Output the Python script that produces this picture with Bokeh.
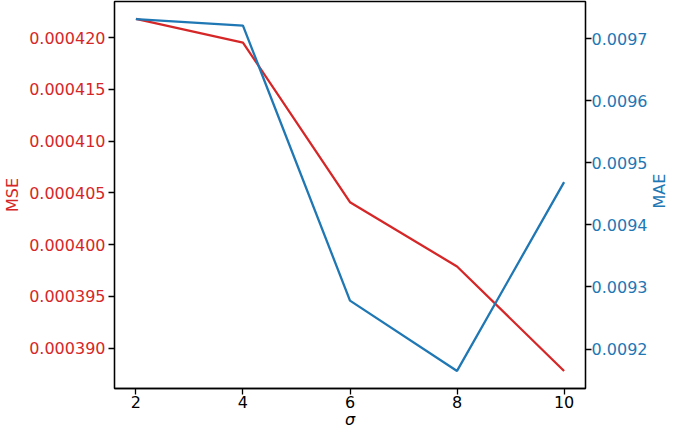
import math
from bokeh.plotting import figure
from bokeh.layouts import row, column
from bokeh.models import LinearAxis, Range1d, FixedTicker, PrintfTickFormatter
from bokeh.core.properties import value
from bokeh.embed import file_html
from bokeh.resources import INLINE

sigma = [2, 4, 6, 8, 10]
mse = [0.00042183, 0.00041953, 0.00040411, 0.00039789, 0.00038779]
mae = [0.0097316, 0.0097210, 0.0092780, 0.0091647, 0.0094690]
x_ticks = [2, 4, 6, 8, 10]
mse_ticks = [0.000390, 0.000395, 0.000400, 0.000405, 0.000410, 0.000415, 0.000420]
mae_ticks = [0.0092, 0.0093, 0.0094, 0.0095, 0.0096, 0.0097]
x_title = "σ"
mse_title = "MSE"
mae_title = "MAE"

RED = "#d62728"
BLUE = "#1f77b4"
FONT = "DejaVu Sans"
FS = "16px"

xr = Range1d(1.6, 10.4)
yr = Range1d(0.0003861, 0.0004235)
yr2 = Range1d(0.0091364, 0.0097599)

STRIP_W, STRIP_H = 20, 20
OVER_X, OVER_Y = 18, 1
PW = 669 - STRIP_W + OVER_X
PH = 429 - STRIP_H + OVER_Y
TOP, BOTTOM, LEFT, RIGHT = 1, 30, 108, 82

p = figure(width=PW, height=PH, output_backend="svg", toolbar_location=None,
           x_range=xr, y_range=yr,
           min_border=0, min_border_top=TOP, min_border_left=LEFT,
           y_axis_location=None)
p.extra_y_ranges = {"mae": yr2}
p.grid.visible = False
p.outline_line_color = "black"
p.outline_line_width = 1.3

p.line(sigma, mse, line_color=RED, line_width=2.3)
p.line(sigma, mae, line_color=BLUE, line_width=2.3, y_range_name="mae")

left = LinearAxis(ticker=FixedTicker(ticks=mse_ticks),
                  formatter=PrintfTickFormatter(format="%.6f"))
left.axis_label = mse_title
left.axis_label_text_color = RED
left.major_label_text_color = RED
left.axis_label_text_font_style = "normal"
left.axis_label_standoff = 4
p.add_layout(left, "left")

right = LinearAxis(y_range_name="mae", ticker=FixedTicker(ticks=mae_ticks),
                   formatter=PrintfTickFormatter(format="%.4f"))
right.major_label_text_color = BLUE
p.add_layout(right, "right")

xa = p.xaxis[0]
xa.ticker = FixedTicker(ticks=x_ticks)
xa.formatter = PrintfTickFormatter(format="%d")
xa.major_label_text_color = "black"

for ax in [left, right, xa]:
    ax.major_label_text_font = FONT
    ax.axis_label_text_font = FONT
    ax.major_label_text_font_size = FS
    ax.axis_label_text_font_size = FS
    ax.major_tick_out = 6
    ax.major_tick_in = 0
    ax.minor_tick_line_color = None
    ax.axis_line_color = "black"
    ax.axis_line_width = 1.3
    ax.major_tick_line_color = "black"
    ax.major_tick_line_width = 1.3
    ax.major_label_standoff = 3
right.major_label_standoff = 0
xa.major_label_standoff = 1

# x-axis title strip, sharing the x range so the title centres on the frame
p3 = figure(width=PW, height=STRIP_H, output_backend="svg", toolbar_location=None,
            x_range=xr, y_range=Range1d(0, 1), min_border=0,
            min_border_left=LEFT, min_border_right=RIGHT,
            x_axis_location=None, y_axis_location=None,
            background_fill_alpha=0, border_fill_alpha=0)
p3.margin = (-OVER_Y, 0, 0, 0)
p3.grid.visible = False
p3.outline_line_color = None
p3.text(x=[(xr.start + xr.end) / 2], y=[0.5], text=[x_title],
        text_align="center", text_baseline="middle", text_color="black",
        text_font=value(FONT), text_font_size=value(FS),
        text_font_style="italic")

# right-hand axis title strip, reading bottom-to-top
p2 = figure(width=STRIP_W, height=PH, output_backend="svg", toolbar_location=None,
            x_range=Range1d(0, 1), y_range=Range1d(0, 1), min_border=0,
            min_border_top=TOP, min_border_bottom=BOTTOM,
            x_axis_location=None, y_axis_location=None,
            background_fill_alpha=0, border_fill_alpha=0)
p2.margin = (0, 0, 0, -OVER_X)
p2.grid.visible = False
p2.outline_line_color = None
p2.text(x=[0.5], y=[0.5], text=[mae_title], angle=math.pi / 2,
        text_align="center", text_baseline="middle", text_color=BLUE,
        text_font=value(FONT), text_font_size=value(FS))

layout = row(column(p, p3), p2)
open("out.html", "w").write(file_html(layout, INLINE))
